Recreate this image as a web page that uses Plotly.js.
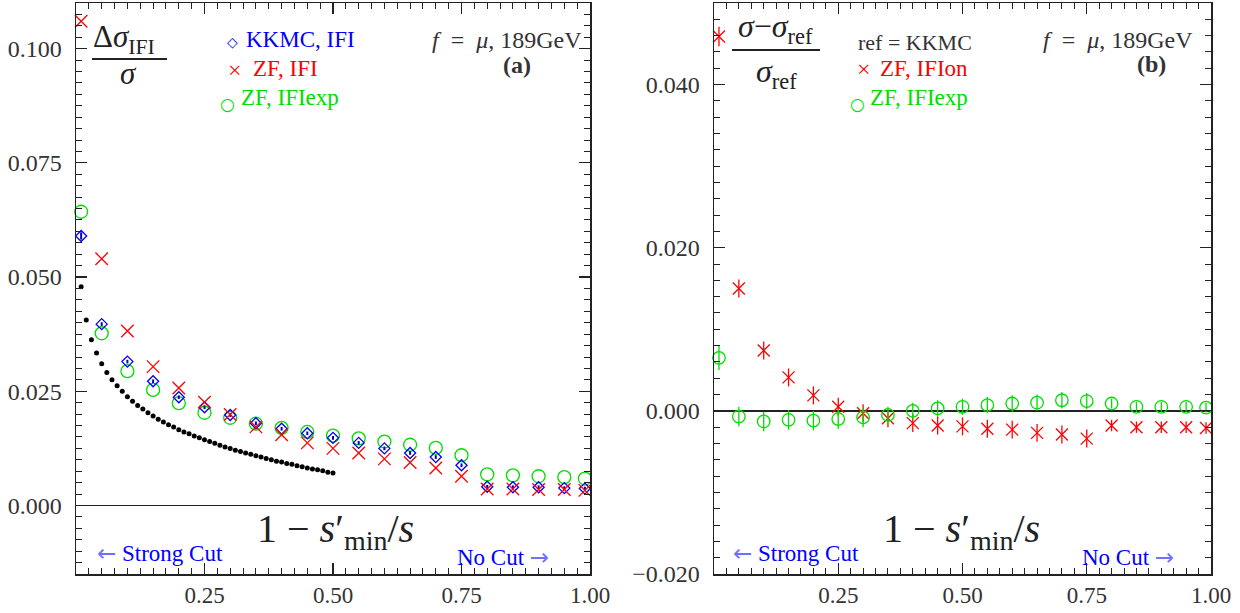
<!DOCTYPE html>
<html><head><meta charset="utf-8">
<script src="https://cdn.plot.ly/plotly-3.0.1.min.js"></script>
<style>html,body{margin:0;padding:0;background:#fff;}#chart{width:1240px;height:613px;}</style>
</head><body><div id="chart"></div>
<script>
// ---- data ----
const vmax = [0.01, 0.05, 0.10, 0.15, 0.20, 0.25, 0.30, 0.35, 0.40, 0.45, 0.50, 0.55, 0.60, 0.65, 0.70, 0.75, 0.80, 0.85, 0.90, 0.95, 0.99];
// panel (a): Delta sigma_IFI / sigma
const kkmcIFI   = [0.0590, 0.0397, 0.0315, 0.0272, 0.0237, 0.0215, 0.0198, 0.0180, 0.0168, 0.0158, 0.0148, 0.0137, 0.0125, 0.0115, 0.0106, 0.0088, 0.0041, 0.0040, 0.0040, 0.0038, 0.0037];
const kkmcIFIerr= [0.0008, 0.0004, 0.0004, 0.0004, 0.0004, 0.0004, 0.0004, 0.0004, 0.0004, 0.0004, 0.0004, 0.0004, 0.0004, 0.0004, 0.0004, 0.0004, 0.0004, 0.0004, 0.0004, 0.0004, 0.0004];
const zfIFI     = [0.1060, 0.0540, 0.0382, 0.0304, 0.0257, 0.0226, 0.0199, 0.0172, 0.0155, 0.0137, 0.0125, 0.0115, 0.0102, 0.0094, 0.0082, 0.0064, 0.0036, 0.0036, 0.0035, 0.0035, 0.0033];
const zfIFIexp  = [0.0643, 0.0377, 0.0294, 0.0253, 0.0224, 0.0203, 0.0192, 0.0179, 0.0170, 0.0161, 0.0153, 0.0147, 0.0140, 0.0133, 0.0126, 0.0110, 0.0068, 0.0066, 0.0064, 0.0062, 0.0059];
// black dotted curve (fine grid)
const vDots = [0.01,0.02,0.03,0.04,0.05,0.06,0.07,0.08,0.09,0.10,0.11,0.12,0.13,0.14,0.15,0.16,0.17,0.18,0.19,0.20,0.21,0.22,0.23,0.24,0.25,0.26,0.27,0.28,0.29,0.30,0.31,0.32,0.33,0.34,0.35,0.36,0.37,0.38,0.39,0.40,0.41,0.42,0.43,0.44,0.45,0.46,0.47,0.48,0.49,0.50];
const dotVals = [0.0479,0.0406,0.0363,0.0334,0.0310,0.0291,0.0275,0.0262,0.0250,0.0238,0.0228,0.0219,0.0211,0.0203,0.0196,0.0189,0.0183,0.0177,0.0172,0.0166,0.0161,0.0157,0.0152,0.0148,0.0144,0.0140,0.0136,0.0132,0.0128,0.0125,0.0121,0.0118,0.0115,0.0112,0.0109,0.0106,0.0103,0.0100,0.0097,0.0095,0.0092,0.0090,0.0087,0.0085,0.0082,0.0080,0.0078,0.0076,0.0073,0.0071];
// panel (b): (sigma - sigma_ref)/sigma_ref, ref = KKMC
const zfIFIon     = [0.0459, 0.0150, 0.0074, 0.0041, 0.0019, 0.0005, -0.0003, -0.0009, -0.0015, -0.0018, -0.0019, -0.0022, -0.0023, -0.0027, -0.0029, -0.0034, -0.0018, -0.0020, -0.0020, -0.0020, -0.0021];
const zfIFIonErr  = [0.0012, 0.0011, 0.0011, 0.0011, 0.0011, 0.0011, 0.0011, 0.0011, 0.0011, 0.0011, 0.0011, 0.0011, 0.0011, 0.0011, 0.0011, 0.0011, 0.0007, 0.0007, 0.0007, 0.0007, 0.0007];
const zfExpRel    = [0.0065, -0.0007, -0.0013, -0.0011, -0.0012, -0.0010, -0.0008, -0.0005, 0.0000, 0.0003, 0.0005, 0.0007, 0.0009, 0.0010, 0.0013, 0.0012, 0.0009, 0.0005, 0.0005, 0.0005, 0.0004];
const zfExpRelErr = [0.0015, 0.0012, 0.0012, 0.0012, 0.0012, 0.0012, 0.0012, 0.0010, 0.0010, 0.0010, 0.0010, 0.0010, 0.0010, 0.0010, 0.0010, 0.0010, 0.0006, 0.0006, 0.0006, 0.0006, 0.0006];
// tick labels
const xTickVals = [0.25, 0.50, 0.75, 1.00];
const xTickText = ["0.25", "0.50", "0.75", "1.00"];

// ---- styling ----
const W = 1240, H = 613;
const px = x => x / W, py = y => 1 - y / H;
const serif = 'Liberation Serif';
const BLUE = '#0000ff', RED = '#ff0000', GREEN = '#00dd00', INK = '#222', TXT = '#333';
const ARROW = '<span style="font-family:DejaVu Sans;color:#7070ff">';

function xax(domain, anchor) {
  return {domain, anchor, range: [0, 1], tickmode: 'array', tickvals: xTickVals, ticktext: xTickText,
    ticks: 'inside', ticklen: 11, tickwidth: 1.2, tickcolor: INK,
    showline: true, linecolor: INK, linewidth: 1.5, mirror: 'allticks',
    showgrid: false, zeroline: false, ticklabelstandoff: 0,
    tickfont: {family: serif, size: 23, color: TXT},
    minor: {tickmode: 'linear', tick0: 0, dtick: 0.025, ticks: 'inside', ticklen: 6, tickwidth: 1, tickcolor: INK, showgrid: false},
    fixedrange: true};
}
function yax(domain, anchor, range, dtick, mdt) {
  return {domain, anchor, range, tickmode: 'linear', tick0: 0, dtick, tickformat: '.3f',
    ticks: 'inside', ticklen: 11, tickwidth: 1.2, tickcolor: INK,
    showline: true, linecolor: INK, linewidth: 1.5, mirror: 'allticks',
    showgrid: false, zeroline: true, zerolinecolor: INK, zerolinewidth: 1.4, ticklabelstandoff: 8,
    tickfont: {family: serif, size: 24, color: TXT},
    minor: {tickmode: 'linear', tick0: 0, dtick: mdt, ticks: 'inside', ticklen: 6, tickwidth: 1, tickcolor: INK, showgrid: false},
    fixedrange: true};
}

const yDom = [py(574), py(3)];
const traces = [
  {x: vDots, y: dotVals, xaxis: 'x', yaxis: 'y', type: 'scatter', mode: 'markers', cliponaxis: false,
   marker: {color: '#000', size: 5}},
  {x: vmax, y: zfIFIexp, xaxis: 'x', yaxis: 'y', type: 'scatter', mode: 'markers', cliponaxis: false,
   marker: {symbol: 'circle-open', size: 13, color: GREEN, line: {width: 1.3, color: GREEN}}},
  {x: vmax, y: kkmcIFI, xaxis: 'x', yaxis: 'y', type: 'scatter', mode: 'markers', cliponaxis: false,
   marker: {symbol: 'diamond-open', size: 8.5, color: BLUE, line: {width: 1.3, color: BLUE}},
   error_y: {type: 'data', array: kkmcIFIerr, visible: true, width: 0, thickness: 2, color: '#0000bb'}},
  {x: vmax, y: zfIFI, xaxis: 'x', yaxis: 'y', type: 'scatter', mode: 'markers', cliponaxis: false,
   marker: {symbol: 'x-thin-open', size: 12.5, color: RED, line: {width: 1.3, color: RED}}},
  {x: vmax, y: zfIFIon, xaxis: 'x2', yaxis: 'y2', type: 'scatter', mode: 'markers', cliponaxis: false,
   marker: {symbol: 'x-thin-open', size: 12, color: RED, line: {width: 1.3, color: RED}},
   error_y: {type: 'data', array: zfIFIonErr, visible: true, width: 0, thickness: 1.3, color: RED}},
  {x: vmax, y: zfExpRel, xaxis: 'x2', yaxis: 'y2', type: 'scatter', mode: 'markers', cliponaxis: false,
   marker: {symbol: 'circle-open', size: 12.5, color: GREEN, line: {width: 1.3, color: GREEN}},
   error_y: {type: 'data', array: zfExpRelErr, visible: true, width: 0, thickness: 1.3, color: GREEN}}
];

function ann(text, x, y, opts) {
  return Object.assign({text, x: px(x), y: py(y), xref: 'paper', yref: 'paper', showarrow: false,
    xanchor: 'center', yanchor: 'middle', font: {family: serif, size: 22, color: TXT}}, opts || {});
}
const sym = 'DejaVu Sans';
const annotations = [
  // panel (a)
  ann('Δ<i>σ</i><sub>IFI</sub>', 124, 39, {font: {family: serif, size: 31, color: INK}}),
  ann('<i>σ</i>', 128, 73, {font: {family: serif, size: 31, color: INK}}),
  ann('◇', 232, 42, {font: {family: sym, size: 14, color: BLUE}}),
  ann('KKMC, IFI', 244, 39, {xanchor: 'left', font: {family: serif, size: 23, color: BLUE}}),
  ann('×', 235, 70, {font: {family: serif, size: 24, color: RED}}),
  ann('ZF, IFI', 251, 68, {xanchor: 'left', font: {family: serif, size: 23, color: RED}}),
  ann('○', 227, 104, {font: {family: sym, size: 17, color: GREEN}}),
  ann('ZF, IFIexp', 239, 97, {xanchor: 'left', font: {family: serif, size: 23, color: GREEN}}),
  ann('<i>f</i>\u00a0\u00a0=\u00a0\u00a0<i>μ</i>, 189GeV', 584, 40, {xanchor: 'right', font: {family: serif, size: 24, color: TXT}}),
  ann('<b>(a)</b>', 517, 65, {font: {family: serif, size: 24, color: TXT}}),
  ann('1 − <i>s</i>′<sub>min</sub>/<i>s</i>', 335, 531, {font: {family: serif, size: 40, color: INK}}),
  ann(ARROW + '←</span> Strong Cut', 95, 553, {xanchor: 'left', font: {family: serif, size: 23, color: BLUE}}),
  ann('No Cut ' + ARROW + '→</span>', 455, 557, {xanchor: 'left', font: {family: serif, size: 23, color: BLUE}}),
  // panel (b)
  ann('<i>σ</i>−<i>σ</i><sub>ref</sub>', 775, 29, {font: {family: serif, size: 32, color: INK}}),
  ann('<i>σ</i><sub>ref</sub>', 776, 73, {font: {family: serif, size: 32, color: INK}}),
  ann('ref = KKMC', 856, 43, {xanchor: 'left', font: {family: serif, size: 22, color: TXT}}),
  ann('×', 864, 69, {font: {family: serif, size: 24, color: RED}}),
  ann('ZF, IFIon', 878, 68, {xanchor: 'left', font: {family: serif, size: 23, color: RED}}),
  ann('○', 857, 104, {font: {family: sym, size: 17, color: GREEN}}),
  ann('ZF, IFIexp', 868, 97, {xanchor: 'left', font: {family: serif, size: 23, color: GREEN}}),
  ann('<i>f</i>\u00a0\u00a0=\u00a0\u00a0<i>μ</i>, 189GeV', 1195, 40, {xanchor: 'right', font: {family: serif, size: 24, color: TXT}}),
  ann('<b>(b)</b>', 1151, 64, {font: {family: serif, size: 24, color: TXT}}),
  ann('1 − <i>s</i>′<sub>min</sub>/<i>s</i>', 961, 531, {font: {family: serif, size: 40, color: INK}}),
  ann(ARROW + '←</span> Strong Cut', 731, 553, {xanchor: 'left', font: {family: serif, size: 23, color: BLUE}}),
  ann('No Cut ' + ARROW + '→</span>', 1080, 557, {xanchor: 'left', font: {family: serif, size: 23, color: BLUE}})
];
const shapes = [
  {type: 'line', xref: 'paper', yref: 'paper', x0: px(92), x1: px(167), y0: py(59), y1: py(59), line: {color: INK, width: 1.8}},
  {type: 'line', xref: 'paper', yref: 'paper', x0: px(732), x1: px(820), y0: py(50), y1: py(50), line: {color: INK, width: 1.8}}
];

const layout = {
  width: W, height: H, margin: {l: 0, r: 0, t: 0, b: 0},
  paper_bgcolor: '#fff', plot_bgcolor: '#fff', showlegend: false,
  font: {family: serif},
  xaxis: xax([px(76), px(590)], 'y'),
  yaxis: yax(yDom, 'x', [-0.015, 0.11], 0.025, 0.0025),
  xaxis2: xax([px(714), px(1211)], 'y2'),
  yaxis2: yax(yDom, 'x2', [-0.02, 0.05], 0.02, 0.002),
  annotations, shapes, hovermode: false
};
Plotly.newPlot('chart', traces, layout, {staticPlot: true, displayModeBar: false});
</script></body></html>
